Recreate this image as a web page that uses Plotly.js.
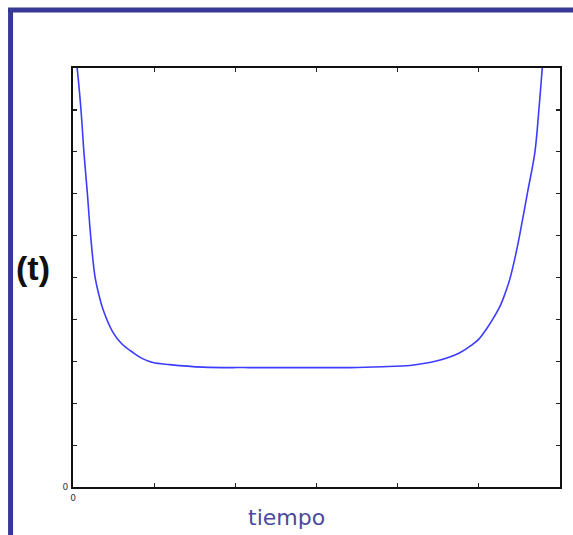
<!DOCTYPE html>
<html>
<head>
<meta charset="utf-8">
<script src="https://cdn.plot.ly/plotly-3.0.1.min.js"></script>
<style>html,body{margin:0;padding:0;background:#fff;}#chart{width:573px;height:535px;}</style>
</head>
<body>
<div id="chart"></div>
<script>
// Bathtub curve values
const tiempo = [0.02, 0.053, 0.098, 0.135, 0.176, 0.218, 0.271, 0.32, 0.369, 0.492, 0.6, 0.738, 0.85, 0.985, 1.194, 1.6, 2.18, 2.79, 3.41, 3.815, 4.15, 4.3, 4.5, 4.65, 4.76, 4.92, 5.0, 5.09, 5.17, 5.26, 5.32, 5.38, 5.44, 5.50, 5.60, 5.69, 5.74, 5.78, 5.80];
const tasa   = [10.5, 9.96, 9.01, 7.98, 7.03, 5.98, 5.02, 4.58, 4.24, 3.69, 3.42, 3.21, 3.07, 2.97, 2.92, 2.86, 2.85, 2.85, 2.85, 2.87, 2.90, 2.94, 3.02, 3.11, 3.20, 3.40, 3.53, 3.76, 4.0, 4.31, 4.6, 4.95, 5.42, 5.98, 7.03, 7.98, 9.01, 9.96, 10.5];
const xTickVals = [0, 1, 2, 3, 4, 5, 6];
const xTickText = ["0", "", "", "", "", "", ""];
const yTickVals = [0, 1, 2, 3, 4, 5, 6, 7, 8, 9, 10];
const yTickText = ["0", "", "", "", "", "", "", "", "", "", ""];

const W = 573, H = 535;
const L = 73, R = 560.5, T = 68, B = 487.5;
const px = v => (v - L) / (R - L);
const py = v => (B - v) / (B - T);
const frameColor = "#383897";

const trace = {
  x: tiempo, y: tasa, type: "scatter", mode: "lines",
  line: {color: "#3c3cff", width: 1.6, shape: "spline", smoothing: 1},
  hoverinfo: "skip"
};

const axisCommon = {
  showgrid: false, zeroline: false, showline: true, linecolor: "#111", linewidth: 2,
  ticks: "inside", ticklen: 4, tickwidth: 1.2, tickcolor: "#222", mirror: "allticks",
  tickfont: {family: "DejaVu Sans, sans-serif", size: 9, color: "#333"}
};

const layout = {
  width: W, height: H,
  margin: {l: L, r: W - R, t: T, b: H - B, pad: 0},
  paper_bgcolor: "#fff", plot_bgcolor: "#fff",
  showlegend: false,
  xaxis: Object.assign({}, axisCommon, {range: [0, 6], tickmode: "array", tickvals: xTickVals, ticktext: xTickText, ticklabelstandoff: 1}),
  yaxis: Object.assign({}, axisCommon, {range: [0, 10], tickmode: "array", tickvals: yTickVals, ticktext: yTickText, ticklabelstandoff: 1}),
  shapes: [
    {type: "line", xref: "paper", yref: "paper", x0: px(10.5), x1: px(10.5), y0: py(8), y1: py(540), line: {color: frameColor, width: 5}},
    {type: "line", xref: "paper", yref: "paper", x0: px(8), x1: px(580), y0: py(10), y1: py(10), line: {color: frameColor, width: 5}}
  ],
  annotations: [
    {text: "<b>(t)</b>", xref: "paper", yref: "paper", x: px(33), y: py(268), showarrow: false,
     font: {family: "Liberation Sans, Arial, sans-serif", size: 34, color: "#111"}, xanchor: "center", yanchor: "middle"},
    {text: "tiempo", xref: "paper", yref: "paper", x: px(287), y: py(518), showarrow: false,
     font: {family: "DejaVu Sans, sans-serif", size: 22, color: "#4a4a9e"}, xanchor: "center", yanchor: "middle"}
  ]
};

Plotly.newPlot("chart", [trace], layout, {staticPlot: true, displayModeBar: false});
</script>
</body>
</html>
